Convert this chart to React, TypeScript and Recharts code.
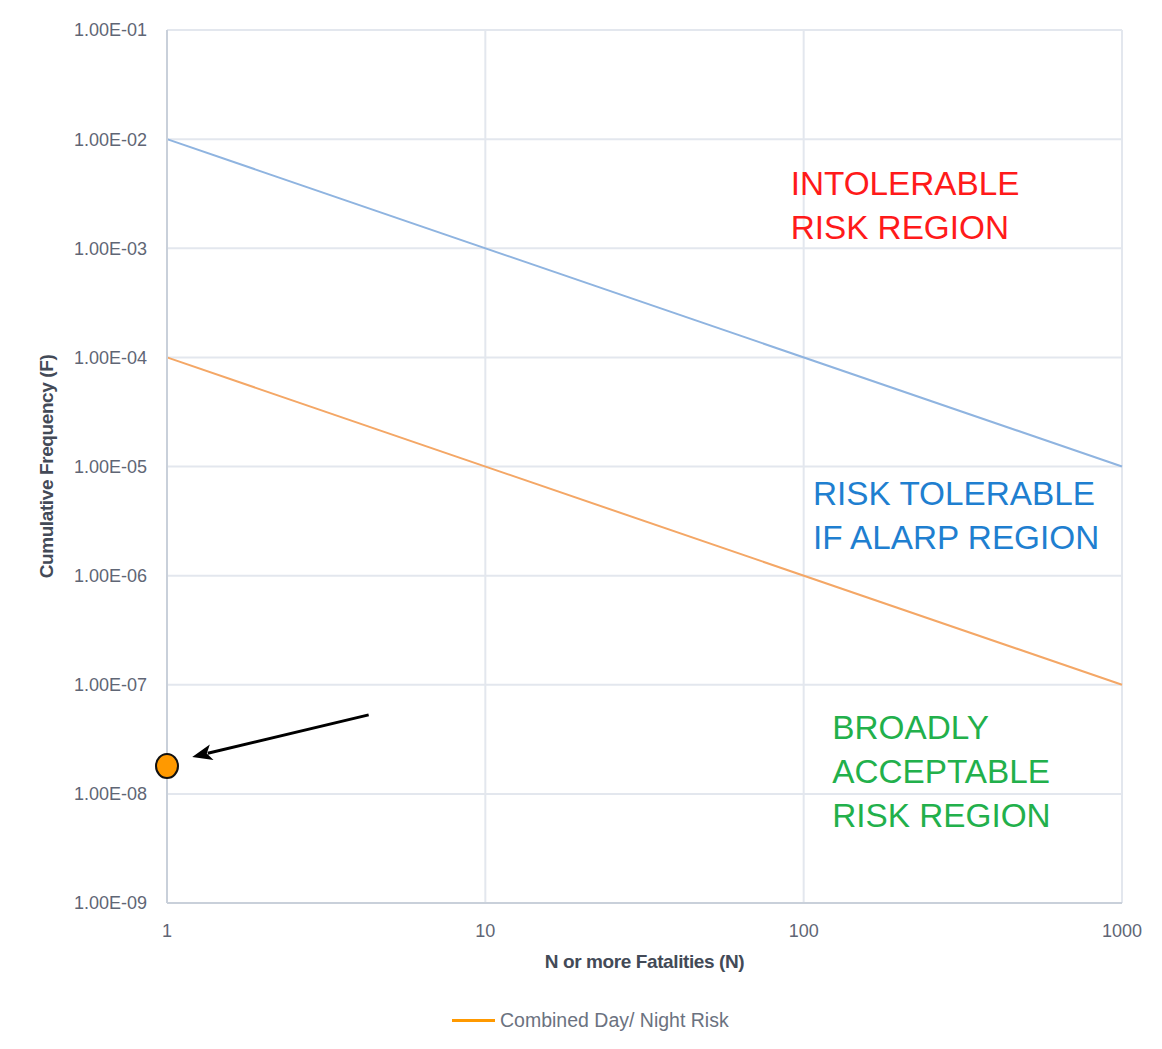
import React from 'react';
import {
  ComposedChart, Line, Scatter, XAxis, YAxis, CartesianGrid, Legend, ReferenceLine, ReferenceDot,
} from 'recharts';

// F-N criterion lines (N, F)
const upperCriterion = [
  { n: 1, f: 1e-2 },
  { n: 1000, f: 1e-5 },
];
const lowerCriterion = [
  { n: 1, f: 1e-4 },
  { n: 1000, f: 1e-7 },
];
// assessed risk point
const combinedRisk = [{ n: 1, f: 1.8e-8 }];

const xTicks = [1, 10, 100, 1000];
const yTicks = [1e-9, 1e-8, 1e-7, 1e-6, 1e-5, 1e-4, 1e-3, 1e-2, 1e-1];

const intolerableLines = ['INTOLERABLE', 'RISK REGION'];
const alarpLines = ['RISK TOLERABLE', 'IF ALARP REGION'];
const acceptableLines = ['BROADLY', 'ACCEPTABLE', 'RISK REGION'];

// annotation anchors (data coords)
const intolerableAt = { n: 91, f: 3.1e-3 };
const alarpAt = { n: 107, f: 4.4e-6 };
const acceptableAt = { n: 123, f: 3.2e-8 };
const arrowFrom = { n: 4.3, f: 5.3e-8 };
const arrowTo = { n: 1.2, f: 2.18e-8 };

const FONT = '"Liberation Sans", Arial, sans-serif';

const fmtExp = (v: number) => {
  const [m, e] = v.toExponential(2).split('e');
  const num = parseInt(e, 10);
  return `${m}E${num < 0 ? '-' : '+'}${String(Math.abs(num)).padStart(2, '0')}`;
};

const regionLabel = (lines: string[], color: string) => (props: any) => {
  const { x, y } = props.viewBox;
  return (
    <text x={x} y={y} fill={color} fontSize={33.3} fontFamily={FONT}>
      {lines.map((l, i) => (
        <tspan key={i} x={x} dy={i === 0 ? 0 : 44}>{l}</tspan>
      ))}
    </text>
  );
};

const ArrowShape = (props: any) => {
  const { x1, y1, x2, y2 } = props;
  const ang = Math.atan2(y2 - y1, x2 - x1);
  const len = 20, half = 8;
  const bx = x2 - len * Math.cos(ang), by = y2 - len * Math.sin(ang);
  const px = -Math.sin(ang) * half, py = Math.cos(ang) * half;
  return (
    <g>
      <line x1={x1} y1={y1} x2={bx + 4 * Math.cos(ang)} y2={by + 4 * Math.sin(ang)} stroke="#000" strokeWidth={3} />
      <polygon points={`${x2},${y2} ${bx + px},${by + py} ${bx + 5 * Math.cos(ang)},${by + 5 * Math.sin(ang)} ${bx - px},${by - py}`} fill="#000" />
    </g>
  );
};

const RiskDot = (props: any) => {
  const { cx, cy } = props;
  return <ellipse cx={cx} cy={cy} rx={11} ry={12} fill="#ff9900" stroke="#111" strokeWidth={2} />;
};

const renderLegend = () => (
  <div style={{ display: 'flex', alignItems: 'center', marginLeft: 444, height: 40, fontFamily: FONT }}>
    <span style={{ display: 'inline-block', width: 43, height: 3, background: '#ff9900', marginRight: 5 }} />
    <span style={{ fontSize: 19.5, color: '#6b7280' }}>Combined Day/ Night Risk</span>
  </div>
);

const App = () => {
  return (
    <div style={{ marginLeft: -2, marginTop: -2, width: 1160, height: 1036, border: '2px solid #e8ecf1', borderBottom: 'none', background: '#fff' }}>
      <ComposedChart width={1154} height={1036} margin={{ top: 22, right: 40, bottom: 4, left: 0 }}>
        <CartesianGrid stroke="#e3e7ee" strokeWidth={2} />
        <XAxis
          dataKey="n"
          type="number"
          scale="log"
          domain={[1, 1000]}
          ticks={xTicks}
          height={97}
          tickSize={0}
          tickMargin={21}
          axisLine={{ stroke: '#c9d0da', strokeWidth: 2 }}
          tick={{ fill: '#5f6675', fontSize: 18, fontFamily: FONT }}
          label={(p: any) => {
            const vb = p.viewBox;
            return (
              <text x={vb.x + vb.width / 2} y={vb.y + 65} textAnchor="middle" fill="#434a57"
                fontSize={19} fontWeight="bold" fontFamily={FONT} letterSpacing={-0.4}>
                N or more Fatalities (N)
              </text>
            );
          }}
        />
        <YAxis
          dataKey="f"
          type="number"
          scale="log"
          domain={[1e-9, 1e-1]}
          ticks={yTicks}
          width={159}
          tickSize={0}
          tickMargin={20}
          tickFormatter={fmtExp}
          axisLine={{ stroke: '#c9d0da', strokeWidth: 2 }}
          tick={{ fill: '#5f6675', fontSize: 18, fontFamily: FONT }}
          label={(p: any) => {
            const vb = p.viewBox;
            const cx = 45, cy = vb.y + vb.height / 2;
            return (
              <text x={cx} y={cy} transform={`rotate(-90, ${cx}, ${cy})`} textAnchor="middle"
                fill="#434a57" fontSize={19} fontWeight="bold" fontFamily={FONT} letterSpacing={-0.4}>
                Cumulative Frequency (F)
              </text>
            );
          }}
        />
        <Line data={upperCriterion} dataKey="f" stroke="#8fb4e0" strokeWidth={2} dot={false} isAnimationActive={false} legendType="none" />
        <Line data={lowerCriterion} dataKey="f" stroke="#f4a766" strokeWidth={2} dot={false} isAnimationActive={false} legendType="none" />
        <Scatter data={combinedRisk} dataKey="f" shape={RiskDot} isAnimationActive={false} name="Combined Day/ Night Risk" />
        <ReferenceLine segment={[{ x: arrowFrom.n, y: arrowFrom.f }, { x: arrowTo.n, y: arrowTo.f }]} shape={ArrowShape} ifOverflow="visible" />
        <ReferenceDot x={intolerableAt.n} y={intolerableAt.f} r={0} stroke="none" fill="none" label={regionLabel(intolerableLines, '#ff1a1a')} />
        <ReferenceDot x={alarpAt.n} y={alarpAt.f} r={0} stroke="none" fill="none" label={regionLabel(alarpLines, '#1f7fd0')} />
        <ReferenceDot x={acceptableAt.n} y={acceptableAt.f} r={0} stroke="none" fill="none" label={regionLabel(acceptableLines, '#22b04b')} />
        <Legend verticalAlign="bottom" height={40} content={renderLegend} />
      </ComposedChart>
    </div>
  );
};

export default App;
